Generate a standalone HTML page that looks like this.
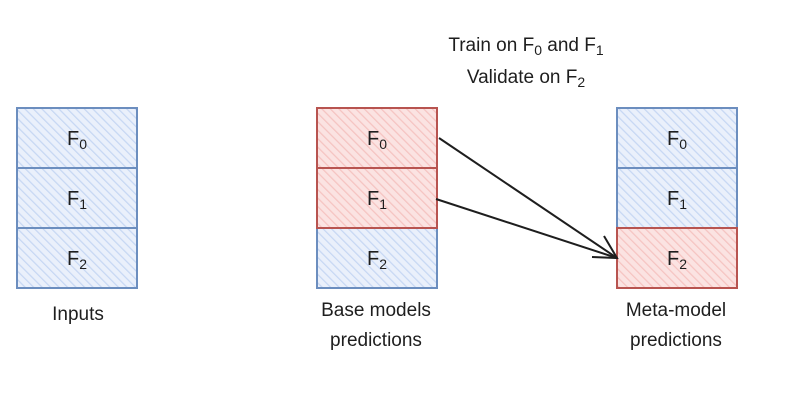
<!DOCTYPE html>
<html><head><meta charset="utf-8"><style>
html,body{margin:0;padding:0;background:#fff;}
svg text{font-family:"Liberation Sans",sans-serif;fill:#1e1e1e;}
</style></head><body>
<svg width="795" height="407" viewBox="0 0 795 407" xmlns="http://www.w3.org/2000/svg">
<defs>
<pattern id="hb" width="6" height="6" patternUnits="userSpaceOnUse" patternTransform="rotate(-45)">
<rect width="6" height="6" fill="#eaf0fb"/><line x1="0" y1="0" x2="0" y2="6" stroke="#c6d7f3" stroke-width="2.5"/></pattern>
<pattern id="hr" width="6" height="6" patternUnits="userSpaceOnUse" patternTransform="rotate(-45)">
<rect width="6" height="6" fill="#fbe3e2"/><line x1="0" y1="0" x2="0" y2="6" stroke="#f5c3c1" stroke-width="2.5"/></pattern>
</defs>
<g stroke-width="2">
<rect x="17" y="108" width="120" height="60" fill="url(#hb)" stroke="#6c8ebf"/>
<rect x="17" y="168" width="120" height="60" fill="url(#hb)" stroke="#6c8ebf"/>
<rect x="17" y="228" width="120" height="60" fill="url(#hb)" stroke="#6c8ebf"/>
<rect x="317" y="228" width="120" height="60" fill="url(#hb)" stroke="#6c8ebf"/>
<rect x="317" y="108" width="120" height="60" fill="url(#hr)" stroke="#b85450"/>
<rect x="317" y="168" width="120" height="60" fill="url(#hr)" stroke="#b85450"/>
<rect x="617" y="108" width="120" height="60" fill="url(#hb)" stroke="#6c8ebf"/>
<rect x="617" y="168" width="120" height="60" fill="url(#hb)" stroke="#6c8ebf"/>
<rect x="617" y="228" width="120" height="60" fill="url(#hr)" stroke="#b85450"/>
</g>
<g stroke="#1e1e1e" stroke-width="2" fill="none">
<line x1="439" y1="138" x2="617" y2="258"/>
<line x1="436" y1="199" x2="617" y2="258"/>
<polyline points="604,236 617,258 592,257"/>
</g>
<g font-size="20" text-anchor="middle">
<text x="77" y="145">F<tspan font-size="14" dy="4">0</tspan></text>
<text x="77" y="205">F<tspan font-size="14" dy="4">1</tspan></text>
<text x="77" y="265">F<tspan font-size="14" dy="4">2</tspan></text>
<text x="377" y="145">F<tspan font-size="14" dy="4">0</tspan></text>
<text x="377" y="205">F<tspan font-size="14" dy="4">1</tspan></text>
<text x="377" y="265">F<tspan font-size="14" dy="4">2</tspan></text>
<text x="677" y="145">F<tspan font-size="14" dy="4">0</tspan></text>
<text x="677" y="205">F<tspan font-size="14" dy="4">1</tspan></text>
<text x="677" y="265">F<tspan font-size="14" dy="4">2</tspan></text>
</g>
<g font-size="19" text-anchor="middle">
<text x="78" y="320">Inputs</text>
<text x="376" y="316">Base models</text>
<text x="376" y="346">predictions</text>
<text x="676" y="316">Meta-model</text>
<text x="676" y="346">predictions</text>
<text x="526" y="51">Train on F<tspan font-size="14" dy="4">0</tspan><tspan dy="-4"> and F</tspan><tspan font-size="14" dy="4">1</tspan></text>
<text x="526" y="83">Validate on F<tspan font-size="14" dy="4">2</tspan></text>
</g>
</svg>
</body></html>
